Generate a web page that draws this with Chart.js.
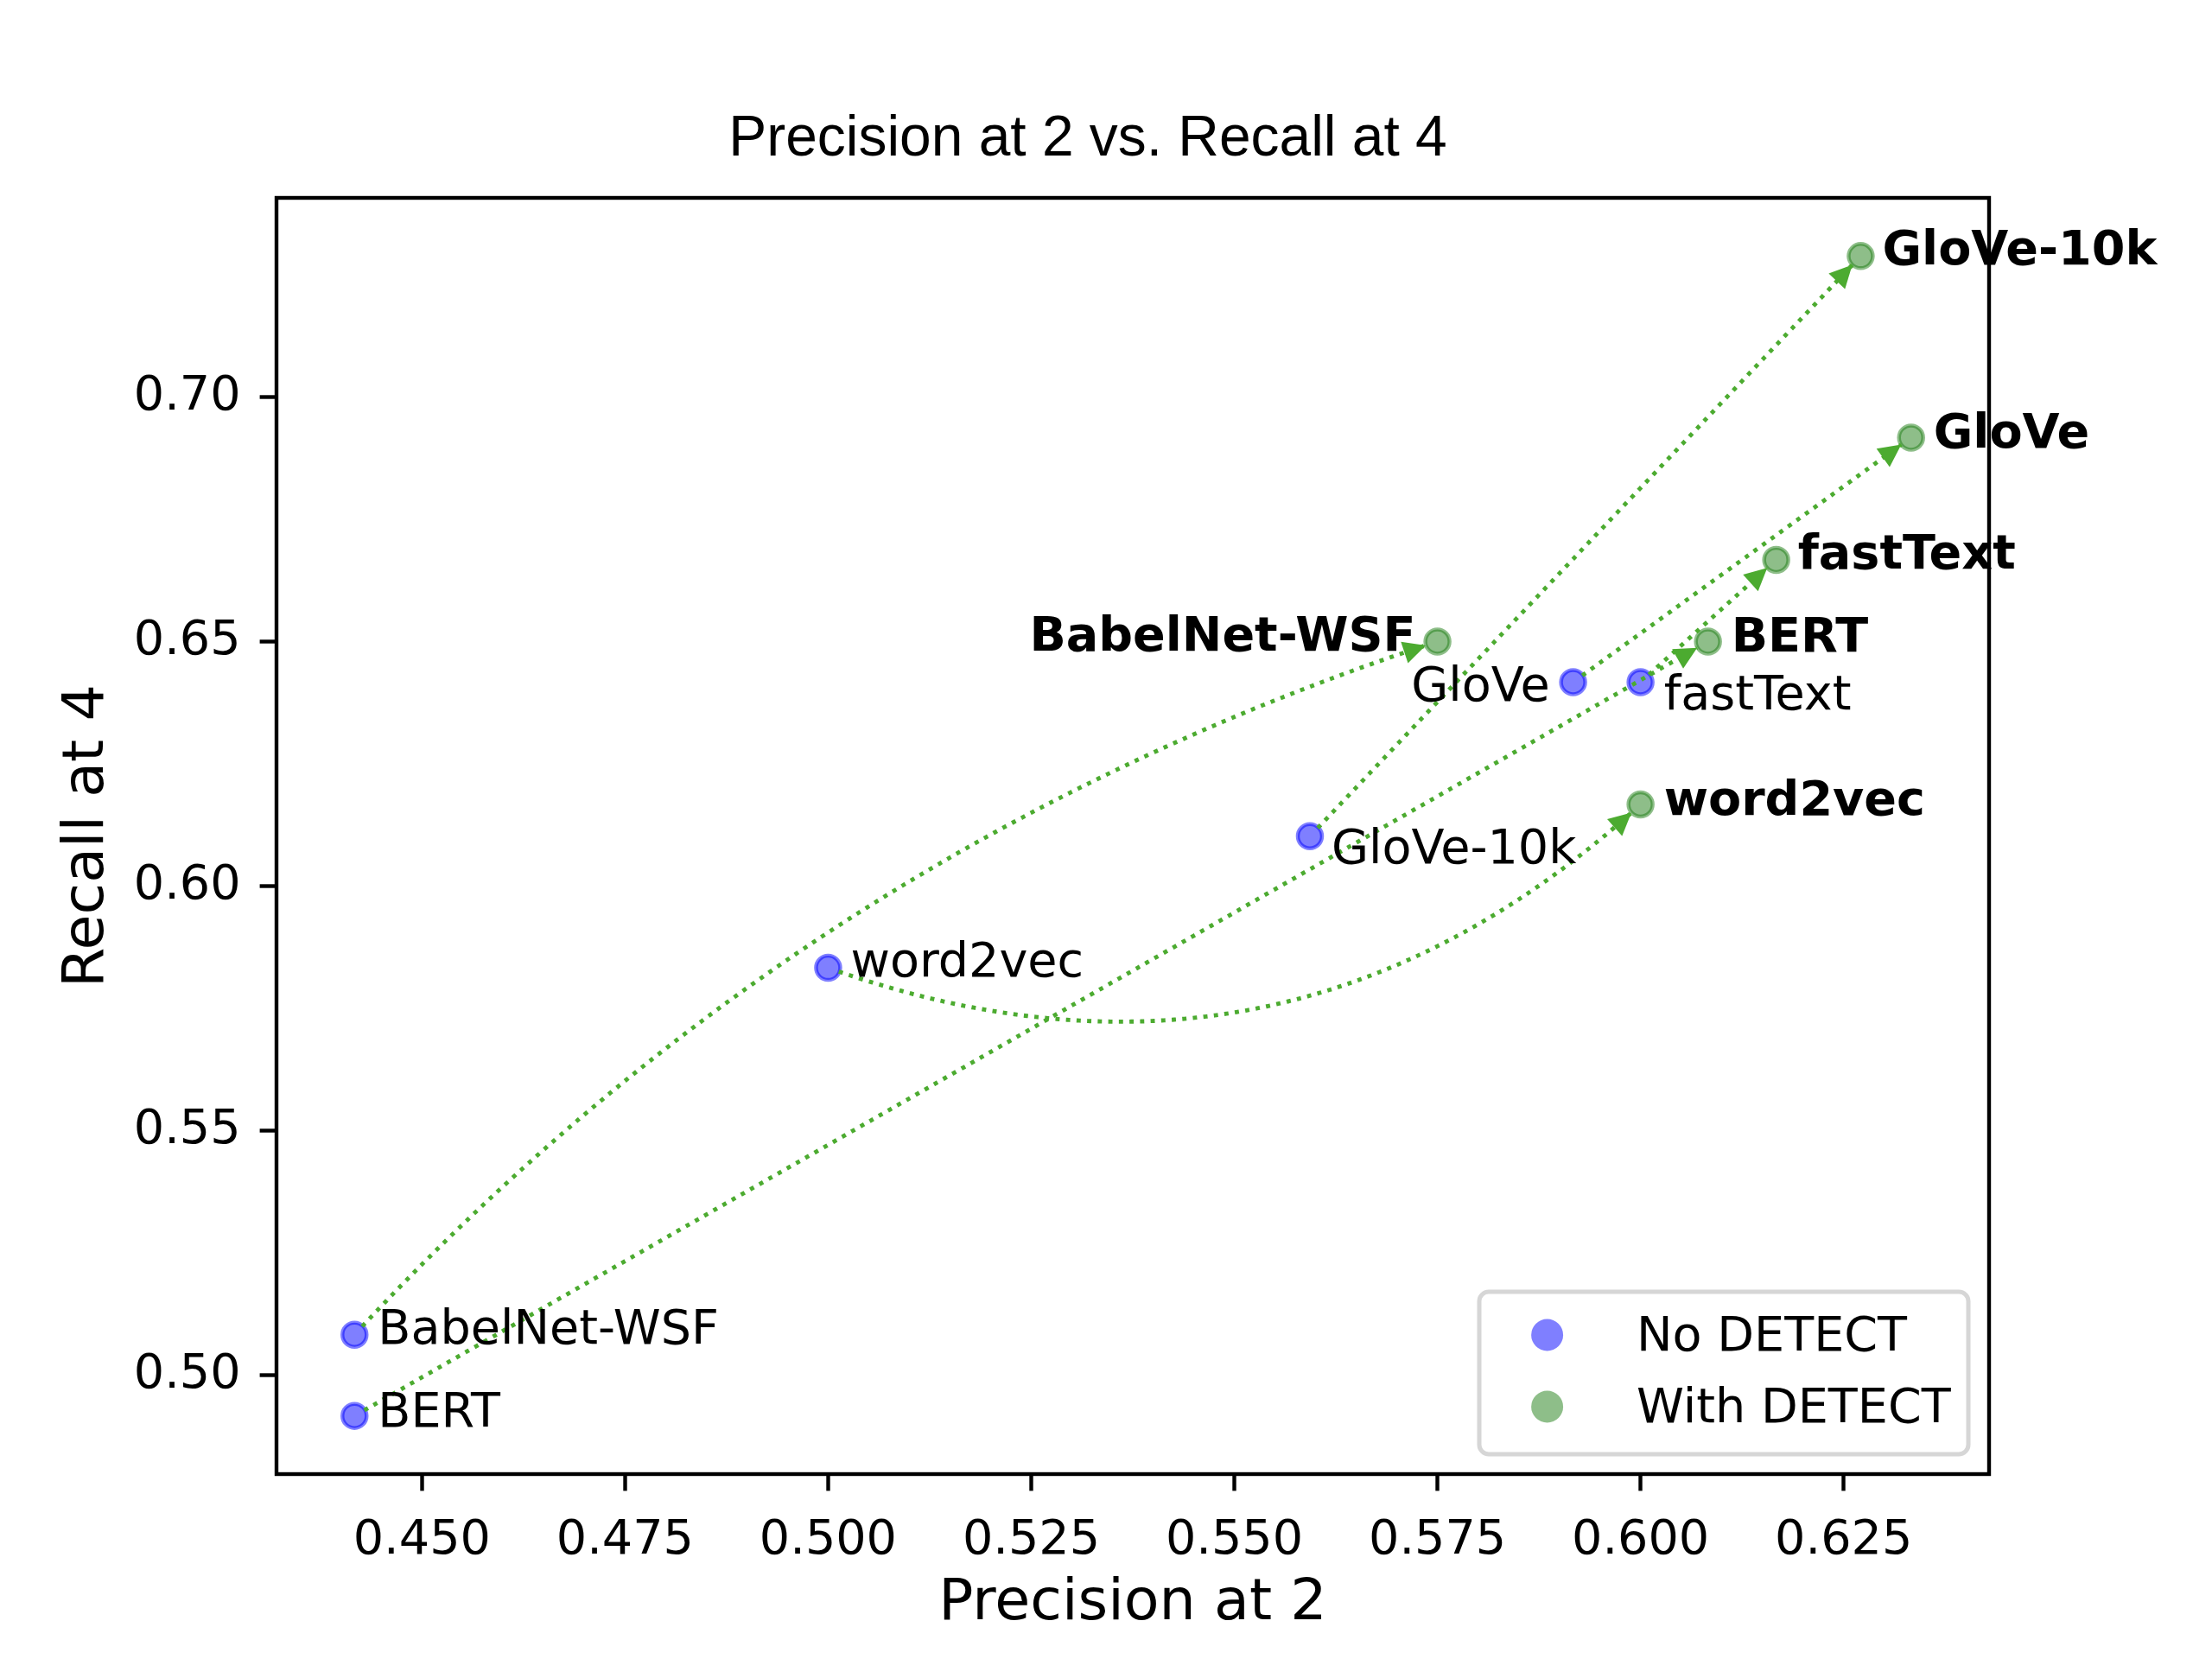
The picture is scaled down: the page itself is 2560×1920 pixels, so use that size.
<!DOCTYPE html>
<html><head><meta charset="utf-8">
<script src="https://cdn.jsdelivr.net/npm/chart.js@4.4.0/dist/chart.umd.min.js"></script>
<style>html,body{margin:0;padding:0;background:#fff;} canvas{display:block;}</style>
</head><body>
<canvas id="c" width="2560" height="1920" style="width:2560px;height:1920px"></canvas>
<script>
// ---- data ----
const models = ['BabelNet-WSF', 'BERT', 'word2vec', 'GloVe-10k', 'GloVe', 'fastText'];
const precisionNoDetect   = [0.4417, 0.4417, 0.5000, 0.5593, 0.5917, 0.6000];
const recallNoDetect      = [0.5083, 0.4917, 0.5833, 0.6102, 0.6417, 0.6417];
const precisionWithDetect = [0.5750, 0.6083, 0.6000, 0.6271, 0.6333, 0.6167];
const recallWithDetect    = [0.6500, 0.6500, 0.6167, 0.7288, 0.6917, 0.6667];
const xTickValues = [0.450, 0.475, 0.500, 0.525, 0.550, 0.575, 0.600, 0.625];
const yTickValues = [0.50, 0.55, 0.60, 0.65, 0.70];
const seriesNames = ['No DETECT', 'With DETECT'];
const chartTitle = 'Precision at 2 vs. Recall at 4';
const xTitle = 'Precision at 2';
const yTitle = 'Recall at 4';

// ---- style ----
const FONT = 'DejaVu Sans';
const TICK_SIZE = 55.6, LABEL_SIZE = 66.7, TITLE_SIZE = 65.9;
const BLUE = 'rgba(0,0,255,0.5)';
const GREEN = 'rgba(30,125,20,0.5)';
const ARROW = '#4cab30';
const arrowStyle = {
  curvature: { 'BabelNet-WSF': -0.13, 'word2vec': 0.3 },
  lineWidth: 4.9, shrinkA: 13, shrinkB: 14, headLen: 26, headHalf: 13
};
// label placement: [dx, dy(baseline), align]
const labelPlaceNo = {
  'BabelNet-WSF': [27, 10, 'left'], 'BERT': [27, 12, 'left'], 'word2vec': [26, 10, 'left'],
  'GloVe-10k': [25, 31, 'left'], 'GloVe': [-27, 22, 'right'], 'fastText': [27, 32, 'left']
};
const labelPlaceWith = {
  'BabelNet-WSF': [-25, 11, 'right'], 'BERT': [27, 12, 'left'], 'word2vec': [27, 12, 'left'],
  'GloVe-10k': [25, 10, 'left'], 'GloVe': [26, 12, 'left'], 'fastText': [25, 10, 'left']
};

const decorPlugin = {
  id: 'decor',
  beforeDatasetsDraw(chart) {
    const ctx = chart.ctx, ca = chart.chartArea;
    ctx.save();
    ctx.strokeStyle = '#000';
    ctx.lineWidth = 4.4;
    ctx.strokeRect(ca.left, ca.top, ca.right - ca.left, ca.bottom - ca.top);
    ctx.restore();
  },
  afterDatasetsDraw(chart) {
    const ctx = chart.ctx, xs = chart.scales.x, ys = chart.scales.y;
    ctx.save();
    models.forEach((m, i) => {
      const ax = xs.getPixelForValue(precisionNoDetect[i]), ay = ys.getPixelForValue(recallNoDetect[i]);
      const bx = xs.getPixelForValue(precisionWithDetect[i]), by = ys.getPixelForValue(recallWithDetect[i]);
      const r = arrowStyle.curvature[m] || 0;
      const dx = bx - ax, dy = by - ay;
      const cx = (ax + bx) / 2 - r * dy, cy = (ay + by) / 2 + r * dx;
      const P = t => [(1 - t) * (1 - t) * ax + 2 * t * (1 - t) * cx + t * t * bx,
                      (1 - t) * (1 - t) * ay + 2 * t * (1 - t) * cy + t * t * by];
      let t0 = 0, t1 = 1;
      const N = 4000;
      for (let k = 0; k <= N; k++) { const p = P(k / N); if (Math.hypot(p[0] - ax, p[1] - ay) >= arrowStyle.shrinkA) { t0 = k / N; break; } }
      for (let k = N; k >= 0; k--) { const p = P(k / N); if (Math.hypot(p[0] - bx, p[1] - by) >= arrowStyle.shrinkB) { t1 = k / N; break; } }
      ctx.beginPath();
      const S = 400;
      for (let k = 0; k <= S; k++) {
        const p = P(t0 + (t1 - t0) * k / S);
        if (k === 0) ctx.moveTo(p[0], p[1]); else ctx.lineTo(p[0], p[1]);
      }
      const lw = arrowStyle.lineWidth;
      ctx.setLineDash([lw, lw * 1.5]);
      ctx.lineDashOffset = 0;
      ctx.lineWidth = lw;
      ctx.lineCap = 'butt';
      ctx.strokeStyle = ARROW;
      ctx.stroke();
      // head
      const e = P(t1), e2 = P(t1 - 0.002);
      let ux = e[0] - e2[0], uy = e[1] - e2[1];
      const L = Math.hypot(ux, uy); ux /= L; uy /= L;
      const hb = [e[0] - ux * arrowStyle.headLen, e[1] - uy * arrowStyle.headLen];
      const px = -uy * arrowStyle.headHalf, py = ux * arrowStyle.headHalf;
      ctx.setLineDash([]);
      ctx.beginPath();
      ctx.moveTo(e[0], e[1]);
      ctx.lineTo(hb[0] + px, hb[1] + py);
      ctx.lineTo(hb[0] - px, hb[1] - py);
      ctx.closePath();
      ctx.fillStyle = ARROW;
      ctx.fill();
    });
    // point labels
    ctx.fillStyle = '#000';
    ctx.textBaseline = 'alphabetic';
    models.forEach((m, i) => {
      const ax = xs.getPixelForValue(precisionNoDetect[i]), ay = ys.getPixelForValue(recallNoDetect[i]);
      const bx = xs.getPixelForValue(precisionWithDetect[i]), by = ys.getPixelForValue(recallWithDetect[i]);
      const a = labelPlaceNo[m], b = labelPlaceWith[m];
      ctx.font = `${TICK_SIZE}px "${FONT}"`;
      ctx.textAlign = a[2];
      ctx.fillText(m, ax + a[0], ay + a[1]);
      ctx.font = `bold ${TICK_SIZE}px "${FONT}"`;
      ctx.textAlign = b[2];
      ctx.fillText(m, bx + b[0], by + b[1]);
    });
    ctx.restore();
  },
  afterDraw(chart) {
    const ctx = chart.ctx, ca = chart.chartArea;
    ctx.save();
    // title
    ctx.fillStyle = '#000';
    ctx.font = `${TITLE_SIZE}px "Liberation Sans"`;
    ctx.textAlign = 'center';
    ctx.textBaseline = 'alphabetic';
    ctx.fillText(chartTitle, 1259, 180);
    // legend
    const x2 = ca.right - 24, y2 = ca.bottom - 23, x1 = x2 - 566, y1 = y2 - 188;
    ctx.beginPath();
    ctx.roundRect(x1, y1, x2 - x1, y2 - y1, 11);
    ctx.fillStyle = 'rgba(255,255,255,0.8)';
    ctx.fill();
    ctx.lineWidth = 5;
    ctx.strokeStyle = '#d6d6d6';
    ctx.stroke();
    ctx.font = `${TICK_SIZE}px "${FONT}"`;
    ctx.textAlign = 'left';
    chart.data.datasets.forEach((ds, k) => {
      const cyy = y1 + 50 + k * 83;
      ctx.beginPath();
      ctx.arc(x1 + 78.6, cyy, 18.5, 0, Math.PI * 2);
      ctx.fillStyle = ds.backgroundColor;
      ctx.fill();
      ctx.fillStyle = '#000';
      ctx.fillText(ds.label, x1 + 182, cyy + 18.3);
    });
    ctx.restore();
  }
};

const toPts = (xs, ys) => xs.map((v, i) => ({ x: v, y: ys[i] }));

new Chart(document.getElementById('c'), {
  type: 'scatter',
  data: {
    datasets: [
      { label: seriesNames[0], data: toPts(precisionNoDetect, recallNoDetect),
        backgroundColor: BLUE, borderColor: BLUE, borderWidth: 4.5, pointRadius: 14 },
      { label: seriesNames[1], data: toPts(precisionWithDetect, recallWithDetect),
        backgroundColor: GREEN, borderColor: GREEN, borderWidth: 4.5, pointRadius: 14 }
    ]
  },
  options: {
    responsive: false,
    devicePixelRatio: 1,
    animation: false,
    events: [],
    layout: { padding: { left: 0, right: 258, top: 229, bottom: 0 } },
    plugins: { legend: { display: false }, tooltip: { enabled: false }, title: { display: false } },
    scales: {
      x: {
        type: 'linear', position: 'bottom', min: 0.4321, max: 0.6429,
        afterFit: s => { s.height = 214; },
        afterBuildTicks: s => { s.ticks = xTickValues.map(v => ({ value: v })); },
        ticks: { callback: v => Number(v).toFixed(3), font: { family: FONT, size: TICK_SIZE }, color: '#000', padding: 24.7, maxRotation: 0, autoSkip: false },
        grid: { display: true, drawOnChartArea: false, drawTicks: true, tickLength: 19.4, tickWidth: 4.4, tickColor: '#000' },
        border: { display: false },
        title: { display: true, text: xTitle, font: { family: FONT, size: LABEL_SIZE }, color: '#000', padding: { top: 0, bottom: 23 } }
      },
      y: {
        type: 'linear', position: 'left', min: 0.4798, max: 0.7407,
        afterFit: s => { s.width = 320; },
        afterBuildTicks: s => { s.ticks = yTickValues.map(v => ({ value: v })); },
        ticks: { callback: v => Number(v).toFixed(2), font: { family: FONT, size: TICK_SIZE }, color: '#000', padding: 22, autoSkip: false },
        grid: { display: true, drawOnChartArea: false, drawTicks: true, tickLength: 19.4, tickWidth: 4.4, tickColor: '#000' },
        border: { display: false },
        title: { display: true, text: yTitle, font: { family: FONT, size: LABEL_SIZE }, color: '#000', padding: { top: 62, bottom: 0 } }
      }
    }
  },
  plugins: [decorPlugin]
});
</script>
</body></html>
